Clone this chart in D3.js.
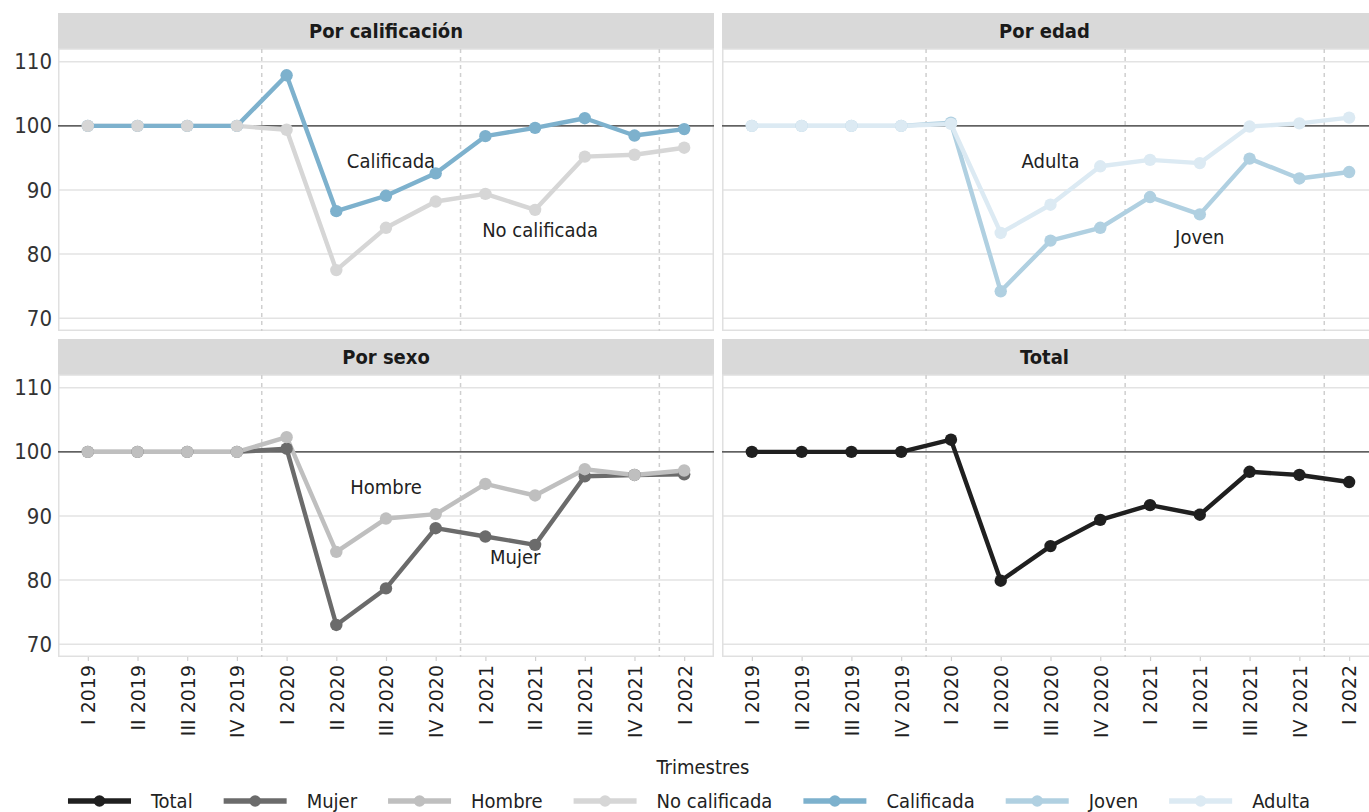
<!DOCTYPE html>
<html>
<head>
<meta charset="utf-8">
<script src="https://cdn.jsdelivr.net/npm/d3@7"></script>
<style>
  body { margin: 0; background: #fff; }
  svg { display: block; }
</style>
</head>
<body>
<svg id="chart" width="1369" height="812"></svg>
<script>
// quarters on the x axis
var quarters = ["I 2019", "II 2019", "III 2019", "IV 2019", "I 2020", "II 2020", "III 2020",
    "IV 2020", "I 2021", "II 2021", "III 2021", "IV 2021", "I 2022"];

// series values (index, base 100)
var total = [100, 100, 100, 100, 101.9, 79.9, 85.3, 89.4, 91.7, 90.2, 96.9, 96.4, 95.3];
var mujer = [100, 100, 100, 100, 100.5, 73.0, 78.7, 88.1, 86.8, 85.5, 96.2, 96.4, 96.5];
var hombre = [100, 100, 100, 100, 102.3, 84.4, 89.6, 90.3, 95.0, 93.2, 97.3, 96.4, 97.1];
var noCalificada = [100, 100, 100, 100, 99.4, 77.5, 84.1, 88.2, 89.4, 86.9, 95.2, 95.5, 96.6];
var calificada = [100, 100, 100, 100, 107.9, 86.7, 89.1, 92.6, 98.4, 99.7, 101.2, 98.5, 99.5];
var joven = [100, 100, 100, 100, 100.5, 74.2, 82.1, 84.1, 88.9, 86.2, 94.9, 91.8, 92.8];
var adulta = [100, 100, 100, 100, 100.3, 83.3, 87.7, 93.7, 94.7, 94.2, 99.9, 100.4, 101.3];

var seriesNames = ["Total", "Mujer", "Hombre", "No calificada", "Calificada", "Joven", "Adulta"];
var seriesColors = ["#1f1f1f", "#6b6b6b", "#bfbfbf", "#d6d6d6", "#7db1cd", "#b0d0e1", "#dceaf3"];

var yTicks = [70, 80, 90, 100, 110];
var breakAfter = ["IV 2019", "IV 2020", "IV 2021"];

var condensed = "'Liberation Sans Narrow', 'DejaVu Sans Condensed', Roboto, sans-serif";
var tickFont = "'DejaVu Sans', sans-serif";

var svg = d3.select("#chart");

var seriesData = {
    "Total": total, "Mujer": mujer, "Hombre": hombre, "No calificada": noCalificada,
    "Calificada": calificada, "Joven": joven, "Adulta": adulta
};
var color = d3.scaleOrdinal().domain(seriesNames).range(seriesColors);

// label x positions are given along the quarter index
var panels = [
    { title: "Por calificación", x0: 58, x1: 714, y0: 49, y1: 331,
      series: ["No calificada", "Calificada"], pointOrder: ["Calificada", "No calificada"],
      labels: [["Calificada", 6.1, 93.5], ["No calificada", 9.1, 82.7]], yAxis: true },
    { title: "Por edad", x0: 722, x1: 1379, y0: 49, y1: 331,
      series: ["Joven", "Adulta"],
      labels: [["Adulta", 6, 93.5], ["Joven", 9, 81.5]], yAxis: false },
    { title: "Por sexo", x0: 58, x1: 714, y0: 375, y1: 657,
      series: ["Mujer", "Hombre"],
      labels: [["Hombre", 6, 93.5], ["Mujer", 8.6, 82.5]], yAxis: true, xAxis: true },
    { title: "Total", x0: 722, x1: 1379, y0: 375, y1: 657,
      series: ["Total"],
      labels: [], yAxis: false, xAxis: true }
];

panels.forEach(drawPanel);
drawLegend();

function drawPanel(p) {
    var x = d3.scalePoint().domain(quarters).range([p.x0, p.x1]).padding(0.6);
    var y = d3.scaleLinear().domain([68, 112]).range([p.y1, p.y0]);
    var g = svg.append("g");
    var step = x.step();

    // strip
    g.append("rect")
        .attr("x", p.x0).attr("y", p.y0 - 36)
        .attr("width", p.x1 - p.x0).attr("height", 36)
        .attr("fill", "#d9d9d9");
    g.append("text")
        .attr("x", (p.x0 + p.x1) / 2 - (p.x1 > 1369 ? 6 : 0))
        .attr("y", p.y0 - 11)
        .attr("text-anchor", "middle")
        .attr("font-family", condensed)
        .attr("font-weight", "bold")
        .attr("font-size", "20px")
        .attr("fill", "#1a1a1a")
        .text(p.title);

    // grid
    g.selectAll(".grid").data(yTicks).enter()
        .append("line")
        .attr("x1", p.x0).attr("x2", p.x1)
        .attr("y1", function(d) { return y(d); })
        .attr("y2", function(d) { return y(d); })
        .attr("stroke", "#e3e3e3")
        .attr("stroke-width", 1.5);

    // panel border
    g.append("rect")
        .attr("x", p.x0 + 0.75).attr("y", p.y0)
        .attr("width", p.x1 - p.x0 - 1.5).attr("height", p.y1 - p.y0 - 0.75)
        .attr("fill", "none")
        .attr("stroke", "#e0e0e0")
        .attr("stroke-width", 1.5);

    // dashed year breaks
    g.selectAll(".brk").data(breakAfter).enter()
        .append("line")
        .attr("x1", function(d) { return x(d) + step / 2; })
        .attr("x2", function(d) { return x(d) + step / 2; })
        .attr("y1", p.y0).attr("y2", p.y1)
        .attr("stroke", "#cfcfcf")
        .attr("stroke-width", 1.5)
        .attr("stroke-dasharray", "4,4");

    // reference line at 100
    g.append("line")
        .attr("x1", p.x0).attr("x2", p.x1)
        .attr("y1", y(100)).attr("y2", y(100))
        .attr("stroke", "#333")
        .attr("stroke-width", 1.3);

    var line = d3.line()
        .x(function(d, i) { return x(quarters[i]); })
        .y(function(d) { return y(d); });

    p.series.forEach(function(name) {
        g.append("path")
            .datum(seriesData[name])
            .attr("d", line)
            .attr("fill", "none")
            .attr("stroke", color(name))
            .attr("stroke-width", 4.4)
            .attr("stroke-linejoin", "round");
    });
    (p.pointOrder || p.series).forEach(function(name) {
        g.selectAll(".pt").data(seriesData[name]).enter()
            .append("circle")
            .attr("cx", function(d, i) { return x(quarters[i]); })
            .attr("cy", function(d) { return y(d); })
            .attr("r", 6.2)
            .attr("fill", color(name));
    });

    // in-panel labels
    p.labels.forEach(function(l) {
        var pos = x(quarters[0]) + l[1] * step;
        g.append("text")
            .attr("x", pos)
            .attr("y", y(l[2]))
            .attr("text-anchor", "middle")
            .attr("font-family", condensed)
            .attr("font-size", "20px")
            .attr("fill", "#222")
            .text(l[0]);
    });

    if (p.yAxis) {
        g.selectAll(".ytick").data(yTicks).enter()
            .append("text")
            .attr("x", 52)
            .attr("y", function(d) { return y(d) + 7.5; })
            .attr("text-anchor", "end")
            .attr("font-family", condensed)
            .attr("font-size", "22px")
            .attr("fill", "#333")
            .text(function(d) { return d; });
    }

    if (p.xAxis) {
        var ax = g.append("g")
            .attr("transform", "translate(0," + p.y1 + ")")
            .call(d3.axisBottom(x).tickSize(4).tickPadding(6));
        ax.select(".domain").remove();
        ax.selectAll(".tick line").attr("stroke", "#d0d0d0").attr("stroke-width", 1.2);
        ax.selectAll(".tick text")
            .attr("font-family", tickFont)
            .attr("font-size", "19px")
            .attr("fill", "#1f1f1f")
            .attr("text-anchor", "end")
            .attr("transform", "rotate(-90)")
            .attr("x", -8)
            .attr("y", 0)
            .attr("dy", "0.36em");
    }
}

function drawLegend() {
    svg.append("text")
        .attr("x", 703)
        .attr("y", 774)
        .attr("text-anchor", "middle")
        .attr("font-family", condensed)
        .attr("font-size", "20px")
        .attr("fill", "#222")
        .text("Trimestres");

    var lg = svg.append("g");
    var cy = 801;
    var xPos = 0;
    var gap = 31;
    seriesNames.forEach(function(name) {
        var item = lg.append("g").attr("transform", "translate(" + xPos + ",0)");
        item.append("line")
            .attr("x1", 0).attr("x2", 63)
            .attr("y1", cy).attr("y2", cy)
            .attr("stroke", color(name))
            .attr("stroke-width", 5.5);
        item.append("circle")
            .attr("cx", 31.5).attr("cy", cy).attr("r", 5.8)
            .attr("fill", color(name));
        var t = item.append("text")
            .attr("x", 83)
            .attr("y", cy + 7)
            .attr("font-family", condensed)
            .attr("font-size", "20px")
            .attr("fill", "#222")
            .text(name);
        xPos += 83 + t.node().getComputedTextLength() + gap;
    });
    var w = xPos - gap;
    lg.attr("transform", "translate(" + (689 - w / 2) + ",0)");
}
</script>
</body>
</html>
